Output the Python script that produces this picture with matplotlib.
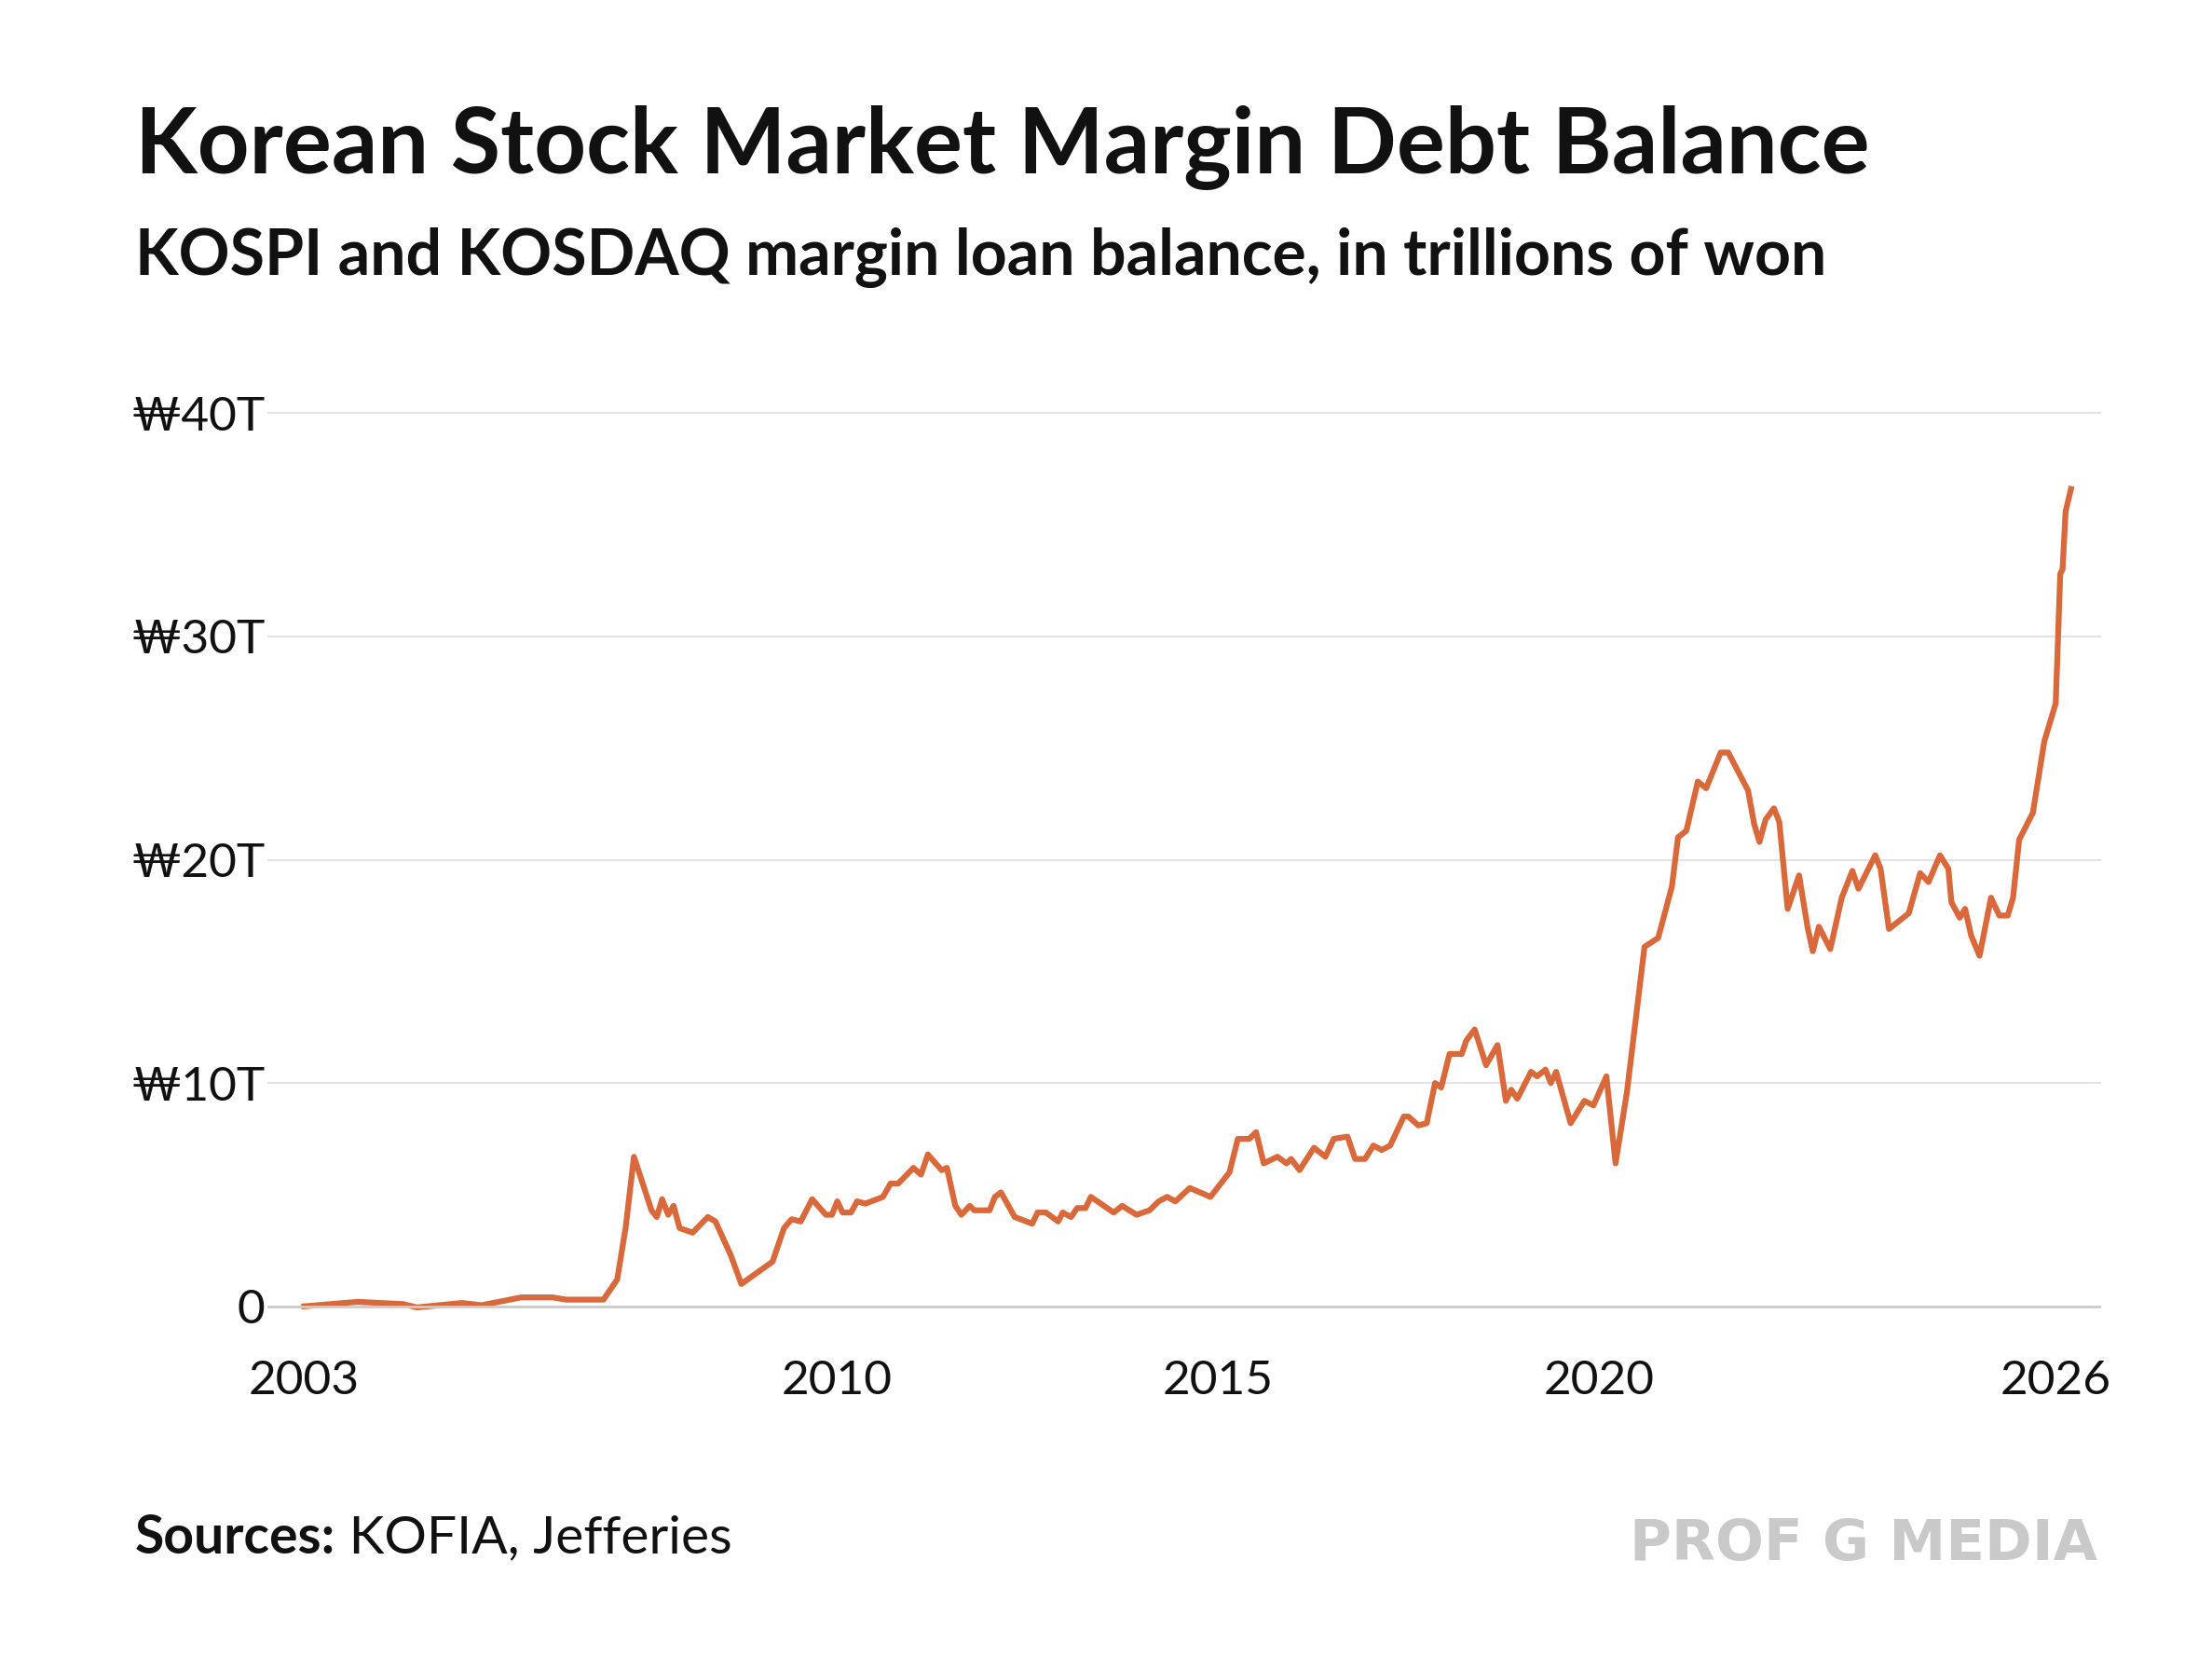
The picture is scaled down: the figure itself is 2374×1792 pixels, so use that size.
import matplotlib
matplotlib.use("Agg")
import matplotlib.pyplot as plt

years = [2003.0,2003.7,2004.3,2004.48,2005.07,2005.33,2005.85,2006.26,2006.44,2006.93,2007.11,2007.22,2007.33,2007.56,2007.63,2007.7,2007.78,2007.85,2007.93,2008.1,2008.3,2008.4,2008.6,2008.74,2009.15,2009.3,2009.4,2009.52,2009.67,2009.85,2009.93,2010.0,2010.07,2010.18,2010.26,2010.37,2010.6,2010.7,2010.8,2011.0,2011.1,2011.19,2011.37,2011.44,2011.55,2011.63,2011.74,2011.8,2012.0,2012.07,2012.15,2012.33,2012.56,2012.63,2012.74,2012.9,2012.96,2013.07,2013.15,2013.26,2013.33,2013.63,2013.74,2013.93,2014.1,2014.22,2014.33,2014.44,2014.63,2014.9,2015.15,2015.26,2015.41,2015.5,2015.6,2015.78,2015.9,2015.96,2016.07,2016.26,2016.41,2016.52,2016.7,2016.8,2016.93,2017.04,2017.15,2017.26,2017.44,2017.5,2017.63,2017.74,2017.85,2017.93,2018.04,2018.2,2018.26,2018.37,2018.52,2018.67,2018.78,2018.85,2018.93,2019.11,2019.19,2019.3,2019.37,2019.44,2019.63,2019.81,2019.93,2020.1,2020.22,2020.37,2020.6,2020.78,2020.96,2021.04,2021.15,2021.3,2021.41,2021.6,2021.7,2021.96,2022.04,2022.11,2022.19,2022.3,2022.37,2022.48,2022.63,2022.74,2022.81,2022.89,2023.04,2023.19,2023.33,2023.41,2023.63,2023.7,2023.81,2024.07,2024.22,2024.33,2024.48,2024.59,2024.63,2024.74,2024.81,2024.89,2025.0,2025.15,2025.26,2025.37,2025.44,2025.52,2025.7,2025.85,2026.0,2026.06,2026.09,2026.13,2026.2]
balance = [0.0,0.2,0.1,-0.05,0.15,0.05,0.4,0.4,0.3,0.3,1.2,3.5,6.7,4.3,4.0,4.8,4.1,4.5,3.5,3.3,4.0,3.8,2.3,1.0,2.0,3.5,3.9,3.8,4.8,4.1,4.1,4.7,4.2,4.2,4.7,4.6,4.9,5.5,5.5,6.2,5.9,6.8,6.1,6.2,4.5,4.1,4.5,4.3,4.3,4.9,5.1,4.0,3.7,4.2,4.2,3.8,4.2,4.0,4.4,4.4,4.9,4.2,4.5,4.1,4.3,4.7,4.9,4.7,5.3,4.9,6.0,7.5,7.5,7.8,6.4,6.7,6.4,6.6,6.1,7.1,6.7,7.5,7.6,6.6,6.6,7.2,7.0,7.2,8.5,8.5,8.1,8.2,10.0,9.8,11.3,11.3,11.9,12.4,10.8,11.7,9.2,9.7,9.3,10.5,10.3,10.6,10.0,10.5,8.2,9.2,9.0,10.3,6.4,9.6,16.1,16.5,18.8,21.0,21.3,23.5,23.2,24.8,24.8,23.1,21.6,20.8,21.8,22.3,21.7,17.8,19.3,17.0,15.9,17.0,16.0,18.3,19.5,18.7,20.2,19.6,16.9,17.6,19.4,19.0,20.2,19.6,18.1,17.4,17.8,16.6,15.7,18.3,17.5,17.5,18.3,20.9,22.1,25.3,27.0,32.8,33.0,35.6,36.6]
xticks = [2003, 2010, 2015, 2020, 2026]
yticks = [0, 10, 20, 30, 40]
ylabels = ["0", "₩10T", "₩20T", "₩30T", "₩40T"]

FAM = ["Lato", "DejaVu Sans"]
plt.rcParams["font.family"] = FAM

fig = plt.figure(figsize=(23.74, 17.92), dpi=100)
fig.patch.set_facecolor("white")
ax = fig.add_axes([0.121, 0.2044, 0.829, 0.5549])
ax.plot(years, balance, color="#D9693A", lw=4.5, solid_joinstyle="round")
ax.set_xlim(2002.52, 2026.6)
ax.set_ylim(-1, 40.5)
for s in ax.spines.values():
    s.set_visible(False)
ax.set_yticks(yticks)
ax.set_yticklabels(ylabels)
ax.set_xticks(xticks)
ax.set_xticklabels([str(x) for x in xticks])
ax.tick_params(axis="both", length=0, labelsize=37, colors="#111111")
ax.tick_params(axis="y", pad=2)
ax.tick_params(axis="x", pad=24)
ax.grid(axis="y", color="#e3e3e3", lw=1.5)
ax.axhline(0, color="#cccccc", lw=2)
ax.set_axisbelow(True)

fig.text(0.061, 0.937, "Korean Stock Market Margin Debt Balance", fontsize=70,
         fontweight="bold", va="top", color="#111111")
fig.text(0.061, 0.864, "KOSPI and KOSDAQ margin loan balance, in trillions of won",
         fontsize=49, fontweight="bold", va="top", color="#111111")

t1 = fig.text(0.061, 0.07, "Sources:", fontsize=41, fontweight="bold", va="baseline", color="#111111")
fig.canvas.draw()
bb = t1.get_window_extent()
x2 = bb.x1 / fig.bbox.width
fig.text(x2, 0.07, " KOFIA, Jefferies", fontsize=41, va="baseline", color="#111111")

fig.text(0.948, 0.066, "PROF G MEDIA", fontsize=44, fontweight="bold", ha="right",
         va="baseline", color="#c9c9c9", family=["Liberation Sans Narrow", "DejaVu Sans"])

fig.savefig("out.png", dpi=100, facecolor="white")
